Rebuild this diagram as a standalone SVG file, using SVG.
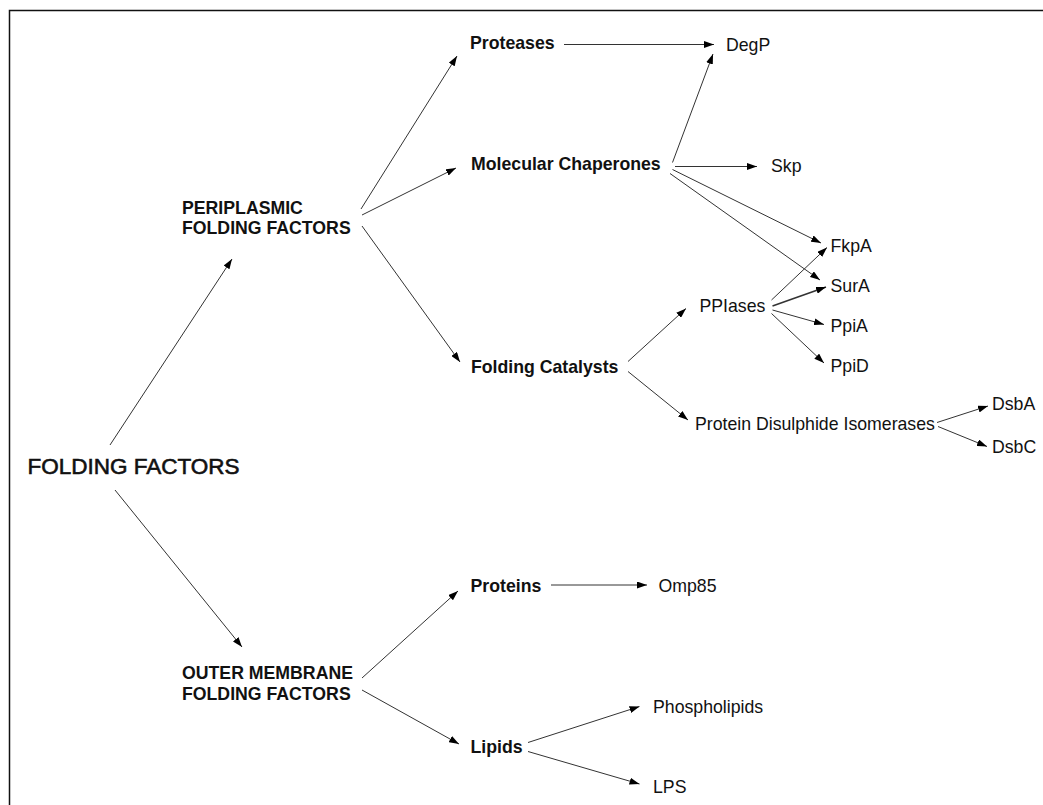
<svg xmlns="http://www.w3.org/2000/svg" width="1043" height="805" viewBox="0 0 1043 805">
  <defs>
    <marker id="arrow" viewBox="0 0 10 7" refX="10" refY="3.5" markerWidth="10" markerHeight="7" markerUnits="userSpaceOnUse" orient="auto">
      <path d="M0,0 L10,3.5 L0,7 z" fill="#000"/>
    </marker>
    <style>
      text { font-family: "Liberation Sans", Arial, Helvetica, sans-serif; fill: #111; }
      .b { font-size: 17.7px; font-weight: bold; }
      .r { font-size: 17.7px; }
      .big { font-size: 22.5px; stroke: #111; stroke-width: 0.6px; }
      .frame { stroke: #111; stroke-width: 1.5; fill: none; }
      #connectors line { stroke: #333; stroke-width: 1; marker-end: url(#arrow); }
    </style>
  </defs>
  <rect x="0" y="0" width="1043" height="805" fill="#fff"/>
  <path class="frame" d="M9.5,805 L9.5,10.5 L1043,10.5"/>

  <g id="connectors">
    <line x1="110" y1="445" x2="232" y2="259"/>
    <line x1="115" y1="490" x2="242" y2="647"/>
    <line x1="361" y1="209" x2="457" y2="56"/>
    <line x1="362" y1="215" x2="456" y2="168"/>
    <line x1="362" y1="226" x2="460" y2="362"/>
    <line x1="564" y1="44.5" x2="714" y2="44.5"/>
    <line x1="672.5" y1="162.5" x2="713" y2="54"/>
    <line x1="675" y1="166.5" x2="757" y2="166.5"/>
    <line x1="672.5" y1="169.5" x2="821" y2="243"/>
    <line x1="670" y1="173.5" x2="820" y2="280"/>
    <line x1="771.5" y1="300" x2="827" y2="247.5"/>
    <line x1="772.5" y1="306" x2="826" y2="287" style="stroke-width:1.6"/>
    <line x1="772.5" y1="310" x2="824" y2="324.5"/>
    <line x1="771.5" y1="313.5" x2="824" y2="363"/>
    <line x1="628" y1="361.5" x2="686" y2="308.5"/>
    <line x1="628" y1="371.5" x2="688" y2="420"/>
    <line x1="937" y1="422.5" x2="988" y2="406"/>
    <line x1="938" y1="426.5" x2="987" y2="446.5"/>
    <line x1="362" y1="678" x2="458" y2="591"/>
    <line x1="362" y1="690" x2="459" y2="744"/>
    <line x1="551" y1="585" x2="647" y2="585"/>
    <line x1="528" y1="742.5" x2="639.5" y2="706.5"/>
    <line x1="528" y1="751.5" x2="639.5" y2="784"/>
  </g>

  <g id="folding-factors"><text class="big" x="27.5" y="474">FOLDING FACTORS</text></g>
  <g id="periplasmic"><text class="b" x="182" y="213.5">PERIPLASMIC</text><text class="b" x="182" y="234">FOLDING FACTORS</text></g>
  <g id="outer-membrane"><text class="b" x="182" y="678.5">OUTER MEMBRANE</text><text class="b" x="182" y="700">FOLDING FACTORS</text></g>
  <g id="proteases"><text class="b" x="470" y="49">Proteases</text></g>
  <g id="molecular-chaperones"><text class="b" x="471" y="170">Molecular Chaperones</text></g>
  <g id="folding-catalysts"><text class="b" x="471" y="373">Folding Catalysts</text></g>
  <g id="proteins"><text class="b" x="470.5" y="592">Proteins</text></g>
  <g id="lipids"><text class="b" x="470.5" y="753">Lipids</text></g>
  <g id="degp"><text class="r" x="726" y="50.5">DegP</text></g>
  <g id="skp"><text class="r" x="771" y="171.5">Skp</text></g>
  <g id="fkpa"><text class="r" x="830.5" y="251.5">FkpA</text></g>
  <g id="sura"><text class="r" x="830.5" y="292">SurA</text></g>
  <g id="ppiases"><text class="r" x="699.5" y="312">PPIases</text></g>
  <g id="ppia"><text class="r" x="830.5" y="332">PpiA</text></g>
  <g id="ppid"><text class="r" x="830.5" y="372">PpiD</text></g>
  <g id="pdi"><text class="r" x="695" y="430">Protein Disulphide Isomerases</text></g>
  <g id="dsba"><text class="r" x="992" y="409.5">DsbA</text></g>
  <g id="dsbc"><text class="r" x="992" y="453">DsbC</text></g>
  <g id="omp85"><text class="r" x="658.5" y="591.5">Omp85</text></g>
  <g id="phospholipids"><text class="r" x="653" y="712.5">Phospholipids</text></g>
  <g id="lps"><text class="r" x="653" y="793">LPS</text></g>
</svg>
